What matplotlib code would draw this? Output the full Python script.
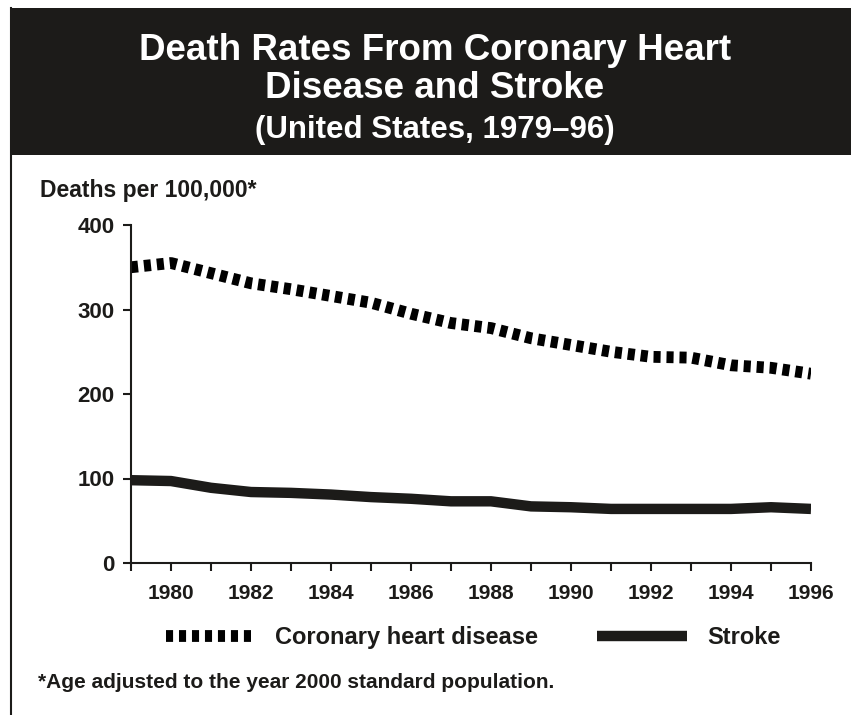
import numpy as np
import matplotlib
matplotlib.use("Agg")
import matplotlib.pyplot as plt
from matplotlib.patches import Rectangle
from matplotlib.lines import Line2D

# data
years = list(range(1979, 1997))
chd = [350, 355, 343, 331, 324, 316, 308, 295, 284, 278, 266, 258, 250, 244, 243, 234, 231, 224]
stroke = [98, 97, 89, 84, 83, 81, 78, 76, 73, 73, 67, 66, 64, 64, 64, 64, 66, 64]
xtick_labels = [str(y) if y % 2 == 0 else "" for y in years]
yticks = [0, 100, 200, 300, 400]

ink = "#1c1b19"
plt.rcParams["font.family"] = ["Liberation Sans", "DejaVu Sans"]
plt.rcParams["font.weight"] = "bold"

W, H = 851, 715
fig = plt.figure(figsize=(W / 100, H / 100), dpi=100)
fig.patch.set_facecolor("white")

# title banner and frame
fig.add_artist(Rectangle((10 / W, 1 - 155 / H), 1, 147 / H, transform=fig.transFigure,
                         facecolor=ink, edgecolor="none"))
fig.add_artist(Line2D([11 / W, 11 / W], [0, 1 - 8 / H], transform=fig.transFigure,
                      color=ink, lw=1.5))

fig.text(435 / W, 1 - 50 / H, "Death Rates From Coronary Heart", color="white",
         fontsize=26.5, fontweight="bold", ha="center", va="center")
fig.text(435 / W, 1 - 89 / H, "Disease and Stroke", color="white",
         fontsize=26.5, fontweight="bold", ha="center", va="center")
fig.text(435 / W, 1 - 130 / H, "(United States, 1979\u201396)", color="white",
         fontsize=22.5, fontweight="bold", ha="center", va="center")

fig.text(40 / W, 1 - 190 / H, "Deaths per 100,000*", color=ink, fontsize=16.5,
         fontweight="bold", ha="left", va="center")
fig.text(38 / W, 1 - 683 / H, "*Age adjusted to the year 2000 standard population.",
         color=ink, fontsize=15, fontweight="bold", ha="left", va="center")

ax = fig.add_axes([131 / W, 1 - 563 / H, 680 / W, 338 / H])
ax.plot(years, chd, color="black", lw=8.5, solid_capstyle="butt",
        dash_capstyle="butt", linestyle=(0, (0.6, 0.5)),
        label="Coronary heart disease")
ax.plot(years, stroke, color=ink, lw=7.5, solid_capstyle="butt", label="Stroke")

ax.set_xlim(1979, 1996)
ax.set_ylim(0, 400)
ax.set_xticks(years)
ax.set_xticklabels(xtick_labels)
ax.set_yticks(yticks)
for s in ["top", "right"]:
    ax.spines[s].set_visible(False)
for s in ["left", "bottom"]:
    ax.spines[s].set_color(ink)
    ax.spines[s].set_linewidth(1.5)
ax.tick_params(direction="out", length=6, width=1.5, color=ink, labelcolor=ink)
ax.tick_params(axis="x", labelsize=15, pad=9)
ax.tick_params(axis="y", labelsize=16, pad=6)
for t in ax.get_xticklabels() + ax.get_yticklabels():
    t.set_fontweight("bold")

leg = ax.legend(loc="center", bbox_to_anchor=(0.503, -0.22), ncol=2, frameon=False,
                prop={"size": 17, "weight": "bold"}, handlelength=3.8,
                handletextpad=0.85, columnspacing=2.5, labelcolor=ink)

fig.savefig("out.png", dpi=100)
